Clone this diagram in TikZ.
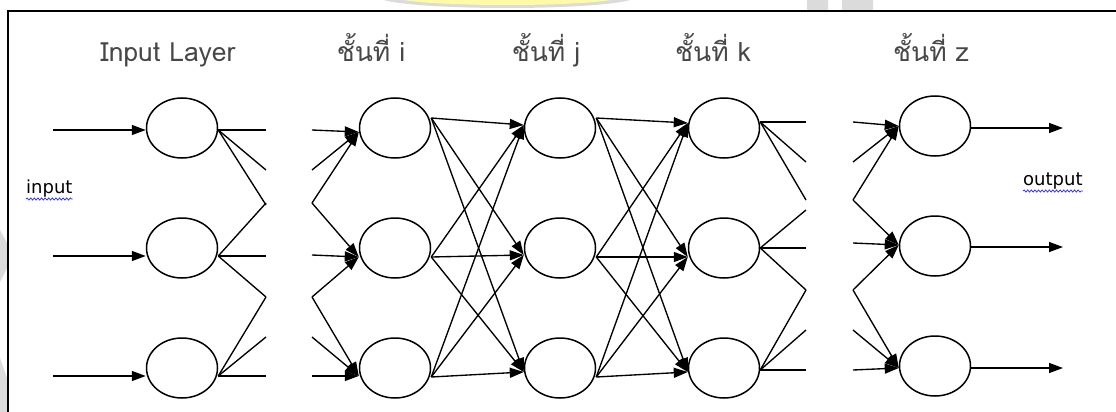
\documentclass[tikz,border=0pt]{standalone}
\usepackage{fontspec}
\newfontfamily\thaifont[Script=Thai]{Loma}
\newfontfamily\notefont{DejaVu Sans}
\usetikzlibrary{arrows.meta, shapes.geometric, decorations.pathmorphing}

\begin{document}
\begin{tikzpicture}[
    x=1pt, y=-1pt,
    neuron/.style={ellipse, draw, line width=1.5pt, minimum width=71pt, minimum height=60pt, inner sep=0pt},
    link/.style={line width=1.35pt},
    feed/.style={link, -{Triangle[length=14pt, width=10pt]}},
    layertitle/.style={font=\thaifont\fontsize{26.5}{30}\selectfont, text=black!72, anchor=base, inner sep=0pt},
    sidelabel/.style={font=\notefont\fontsize{18}{20}\selectfont, anchor=base west, inner sep=0pt},
    spellmark/.style={blue!85!white, line width=0.7pt, decorate, decoration={snake, amplitude=1.1pt, segment length=3.6pt}}
]

\useasboundingbox (0,0) rectangle (1116,412);

% Parameters
\def\cutA{266}   % left gap, input side
\def\cutB{312}   % left gap, layer i side
\def\cutC{806}   % right gap, layer k side
\def\cutD{853}   % right gap, layer z side

% === Faint watermark traces ===
\begin{scope}
    \clip (0,0) rectangle (1116,11);
    \fill[gray!28] (507,-3) ellipse (128 and 11);
    \fill[yellow!35] (507,-3) ellipse (112 and 8);
    \fill[gray!28] (807,0) rectangle (828,11) (842,0) rectangle (873,11);
\end{scope}
\fill[gray!28] (0,230) -- (7,243) -- (7,268) -- (0,282) -- cycle;
\fill[gray!28] (0,358) -- (7,378) -- (7,412) -- (0,412) -- cycle;

% === Frame ===
\draw[line width=1.5pt] (8,412) -- (8,11) -- (1116,11);

% === Neurons ===
\foreach \name/\x in {in/182, i/395, j/560, k/724} {
    \node[neuron] (\name1) at (\x,128) {};
    \node[neuron] (\name2) at (\x,248) {};
    \node[neuron] (\name3) at (\x,368) {};
}
\node[neuron] (z1) at (935,126) {};
\node[neuron] (z2) at (935,246) {};
\node[neuron] (z3) at (935,366) {};

% connection points on each ellipse (shift up in pt)
\foreach \n/\di/\do in {in1/-2/-2, in2/-8/-8, in3/-8/-8,
                        i1/-4/10, i2/-9/-9, i3/-8/-9,
                        j1/3/10, j2/-7/-9, j3/-4/-9,
                        k1/5/6, k2/-9/0, k3/-4/-2,
                        z1/0/-2, z2/1/-1, z3/-2/-2} {
    \coordinate (\n-in) at ([yshift=\di]\n.west);
    \coordinate (\n-out) at ([yshift=\do]\n.east);
}

% === Layer titles ===
\node[layertitle] (tin) at (168,62) {Input Layer};
\node[layertitle] (ti) at (371,62) {ชั้นที่ i};
\node[layertitle] (tj) at (546,62) {ชั้นที่ j};
\node[layertitle] (tk) at (713,62) {ชั้นที่ k};
\node[layertitle] (tz) at (931,62) {ชั้นที่ z};

% === input / output labels ===
\node[sidelabel] (lin) at (26,193) {input};
\node[sidelabel] (lout) at (1023,185) {output};
\draw[spellmark] ([yshift=-6]lin.base west) -- ([yshift=-6]lin.base east);
\draw[spellmark] ([yshift=-6]lout.base west) -- ([yshift=-6]lout.base east);

% === Input and output arrows ===
\foreach \r/\y in {1/130, 2/256, 3/376} {
    \coordinate (src\r) at (53,\y);
    \draw[feed] (src\r) -- (in\r-in);
}
\foreach \r/\y in {1/128, 2/247, 3/368} {
    \coordinate (dst\r) at (1063,\y);
    \draw[feed] (z\r-out) -- (dst\r);
}

% === Cut links across the left gap ===
\foreach \r/\ya/\yb/\yc in {1/130/170/205, 2/203/256/297, 3/297/337/376} {
    \foreach \y [count=\s] in {\ya,\yb,\yc} {
        \coordinate (ga\r\s) at (\cutA,\y);
        \draw[link] (in\r-out) -- (ga\r\s);
    }
}
\foreach \r/\ya/\yb/\yc in {1/130/170/203, 2/203/255/297, 3/297/337/376} {
    \foreach \y [count=\s] in {\ya,\yb,\yc} {
        \coordinate (gb\r\s) at (\cutB,\y);
        \draw[feed] (gb\r\s) -- (i\r-in);
    }
}

% === Fully connected i -> j -> k ===
\foreach \a in {1,2,3} {
    \foreach \b in {1,2,3} {
        \draw[feed] (i\a-out) -- (j\b-in);
        \draw[feed] (j\a-out) -- (k\b-in);
    }
}

% === Cut links across the right gap ===
\foreach \r/\ya/\yb/\yc in {1/122/162/200, 2/210/248/290, 3/290/330/370} {
    \foreach \y [count=\s] in {\ya,\yb,\yc} {
        \coordinate (gc\r\s) at (\cutC,\y);
        \draw[link] (k\r-out) -- (gc\r\s);
    }
}
\foreach \r/\ya/\yb/\yc in {1/122/162/200, 2/200/243/290, 3/290/330/370} {
    \foreach \y [count=\s] in {\ya,\yb,\yc} {
        \coordinate (gd\r\s) at (\cutD,\y);
        \draw[feed] (gd\r\s) -- (z\r-in);
    }
}

\end{tikzpicture}
\end{document}
